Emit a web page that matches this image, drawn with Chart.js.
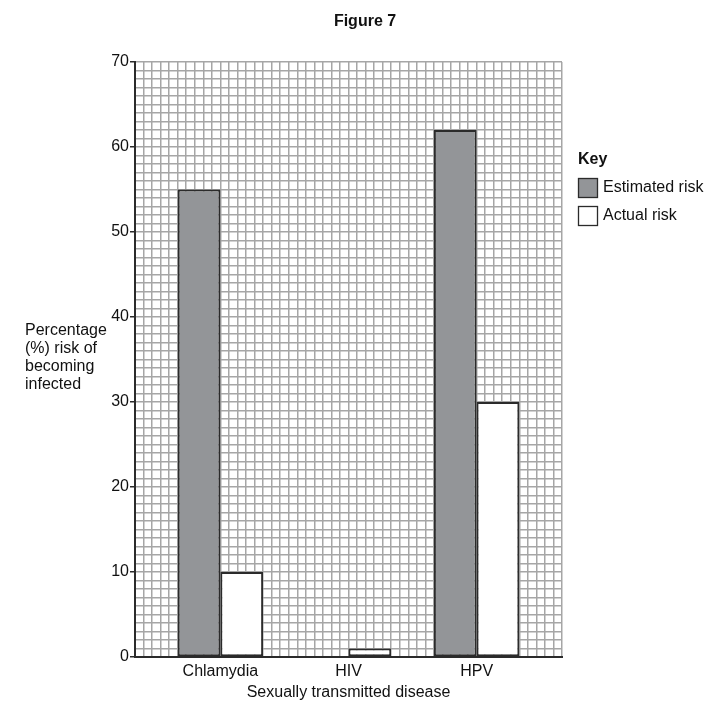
<!DOCTYPE html>
<html>
<head>
<meta charset="utf-8">
<script src="https://cdn.jsdelivr.net/npm/chart.js@4/dist/chart.umd.min.js"></script>
<style>
  html, body { margin: 0; padding: 0; background: #fff; }
  #wrap { width: 727px; height: 716px; }
</style>
</head>
<body>
<div id="wrap"><canvas id="c" width="727" height="716"></canvas></div>
<script>
// ---- data ----
const categories = ['Chlamydia', 'HIV', 'HPV'];
const estimatedRisk = [55, 0, 62];
const actualRisk = [10, 1, 30];
const yTickLabels = [0, 10, 20, 30, 40, 50, 60, 70];
const seriesNames = ['Estimated risk', 'Actual risk'];
const yTitleLines = ['Percentage', '(%) risk of', 'becoming', 'infected'];
const xTitle = 'Sexually transmitted disease';
const figTitle = 'Figure 7';
const keyTitle = 'Key';

// ---- layout constants (grid units on the x axis) ----
const X_CELLS = 50, X_FIRST = 10, X_STEP = 15;
const catPos = categories.map((c, i) => X_FIRST + X_STEP * i);

const FONT = "'Liberation Sans', Arial, sans-serif";
const DARK = '#2b2b2b';
const GRAY = '#939598';
const GRID = '#a6a6a6';

const annot = {
  id: 'annot',
  afterDraw(chart) {
    const ctx = chart.ctx;
    ctx.save();
    ctx.fillStyle = '#111';
    ctx.textBaseline = 'middle';
    ctx.font = 'bold 16px ' + FONT;
    ctx.textAlign = 'center';
    ctx.fillText(figTitle, 365, 22);
    ctx.font = '16px ' + FONT;
    ctx.textAlign = 'left';
    yTitleLines.forEach((t, i) => ctx.fillText(t, 25, 331 + i * 18));
    ctx.font = 'bold 16px ' + FONT;
    ctx.fillText(keyTitle, 578, 160);
    ctx.font = '16px ' + FONT;
    const fills = [GRAY, '#ffffff'];
    seriesNames.forEach((n, i) => {
      const y = 178 + i * 28;
      ctx.fillStyle = fills[i];
      ctx.fillRect(578, y, 19, 19);
      ctx.strokeStyle = DARK;
      ctx.lineWidth = 1.3;
      ctx.strokeRect(578.5, y + 0.5, 19, 19);
      ctx.fillStyle = '#111';
      ctx.fillText(n, 603, y + 10);
    });
    ctx.restore();
  }
};

new Chart(document.getElementById('c'), {
  type: 'bar',
  data: {
    datasets: [
      {
        label: seriesNames[0],
        data: categories.map((c, i) => ({ x: catPos[i], y: estimatedRisk[i] })),
        backgroundColor: GRAY,
        borderColor: DARK,
        borderWidth: 2,
        borderSkipped: false
      },
      {
        label: seriesNames[1],
        data: categories.map((c, i) => ({ x: catPos[i], y: actualRisk[i] })),
        backgroundColor: '#ffffff',
        borderColor: DARK,
        borderWidth: 2,
        borderSkipped: false
      }
    ]
  },
  options: {
    responsive: false,
    animation: false,
    devicePixelRatio: 1,
    categoryPercentage: 2 / 3,
    barPercentage: 1,
    layout: { padding: { left: 0, right: 165, top: 62, bottom: 0 } },
    plugins: { legend: { display: false }, tooltip: { enabled: false }, title: { display: false } },
    scales: {
      x: {
        type: 'linear',
        min: 0,
        max: X_CELLS,
        offset: false,
        afterBuildTicks(s) { s.ticks = catPos.map(v => ({ value: v })); },
        afterFit(s) { s.height = 59; },
        grid: {
          offset: false,
          drawOnChartArea: false,
          tickLength: 2,
          tickColor: 'rgba(0,0,0,0)'
        },
        border: { color: DARK, width: 2 },
        ticks: {
          autoSkip: false,
          maxRotation: 0,
          padding: 3,
          color: '#111',
          font: { family: FONT, size: 16 },
          callback(v) { const i = catPos.indexOf(v); return i >= 0 ? categories[i] : ''; }
        },
        title: {
          display: true,
          text: xTitle,
          color: '#111',
          font: { family: FONT, size: 16 },
          padding: { top: 0, bottom: 14 }
        }
      },
      xg: {
        type: 'linear',
        position: 'top',
        min: 0,
        max: X_CELLS,
        offset: false,
        afterFit(s) { s.height = 0; },
        grid: { offset: false, color: GRID, lineWidth: 1.5, drawTicks: false },
        border: { display: false },
        ticks: { display: false, stepSize: 1, maxTicksLimit: 200, autoSkip: false }
      },
      y: {
        min: 0,
        max: 70,
        afterFit(s) { s.width = 135; },
        grid: {
          color: GRID,
          lineWidth: 1.5,
          tickLength: 5,
          tickColor(ctx) { return yTickLabels.includes(ctx.tick.value) ? DARK : 'rgba(0,0,0,0)'; }
        },
        border: { color: DARK, width: 2 },
        ticks: {
          stepSize: 1,
          maxTicksLimit: 200,
          autoSkip: false,
          padding: 1,
          color: '#111',
          font: { family: FONT, size: 16 },
          callback(v) { return yTickLabels.includes(v) ? String(v) : ''; }
        }
      }
    }
  },
  plugins: [annot]
});
</script>
</body>
</html>
